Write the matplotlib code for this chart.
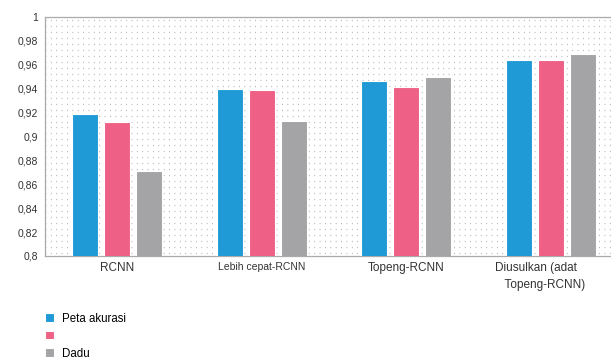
import matplotlib.pyplot as plt
import matplotlib.transforms as mtransforms
import numpy as np

plt.rcParams['font.family'] = ['Liberation Sans', 'DejaVu Sans']

categories = ['RCNN', 'Lebih cepat-RCNN', 'Topeng-RCNN', 'Diusulkan (adat\n   Topeng-RCNN)']
series_names = ['Peta akurasi', ' ', 'Dadu']
peta_akurasi = [0.919, 0.940, 0.946, 0.964]
tanpa_nama = [0.912, 0.939, 0.941, 0.964]
dadu = [0.871, 0.913, 0.950, 0.969]
y_ticks = [0.8, 0.82, 0.84, 0.86, 0.88, 0.9, 0.92, 0.94, 0.96, 0.98, 1.0]
y_tick_labels = ['0,8', '0,82', '0,84', '0,86', '0,88', '0,9', '0,92', '0,94', '0,96', '0,98', '1']

colors = ['#1f9ad6', '#ee6086', '#a4a4a7']

fig = plt.figure(figsize=(6.11, 3.61), dpi=100)
ax = fig.add_axes([0.0737, 0.291, 0.946, 0.662])

x = np.arange(len(categories))
width = 0.18
step = 0.22
bars = []
for i, vals in enumerate([peta_akurasi, tanpa_nama, dadu]):
    b = ax.bar(x + (i - 1) * step, vals, width, color=colors[i],
               edgecolor='white', linewidth=0.8, zorder=3)
    bars.append(b)

# dotted background pattern
for yv in np.arange(0.8025, 1.0, 0.005):
    ax.axhline(yv, color='#b0b0b0', lw=0.9, dashes=(0.7, 3.6), zorder=1)

ax.set_xlim(-0.5, 3.5)
ax.set_ylim(0.8, 1.0)
ax.set_yticks(y_ticks)
ax.set_yticklabels(y_tick_labels, fontsize=7.5, color='#333333')
ax.set_xticks(x)
ax.set_xticklabels(categories, fontsize=8.5, color='#333333', linespacing=1.6)
ax.get_xticklabels()[1].set_fontsize(7.5)
ax.tick_params(length=0, pad=5)
ax.tick_params(axis='x', pad=4)
for lab in ax.get_xticklabels():
    lab.set_multialignment('left')
# nudge the two-line label a little to the left
last = ax.get_xticklabels()[-1]
last.set_transform(last.get_transform() + mtransforms.ScaledTranslation(-0.11, 0, fig.dpi_scale_trans))

for side in ['left', 'top', 'bottom']:
    ax.spines[side].set_color('#aaaaaa')
    ax.spines[side].set_linewidth(0.9)
ax.spines['right'].set_visible(False)

fig.legend(bars, series_names, loc='upper left', bbox_to_anchor=(0.066, 0.147),
           frameon=False, fontsize=8.3, handlelength=0.75, handleheight=0.75,
           handletextpad=0.7, labelspacing=0.48, borderaxespad=0)

fig.savefig('out.png', dpi=100)
